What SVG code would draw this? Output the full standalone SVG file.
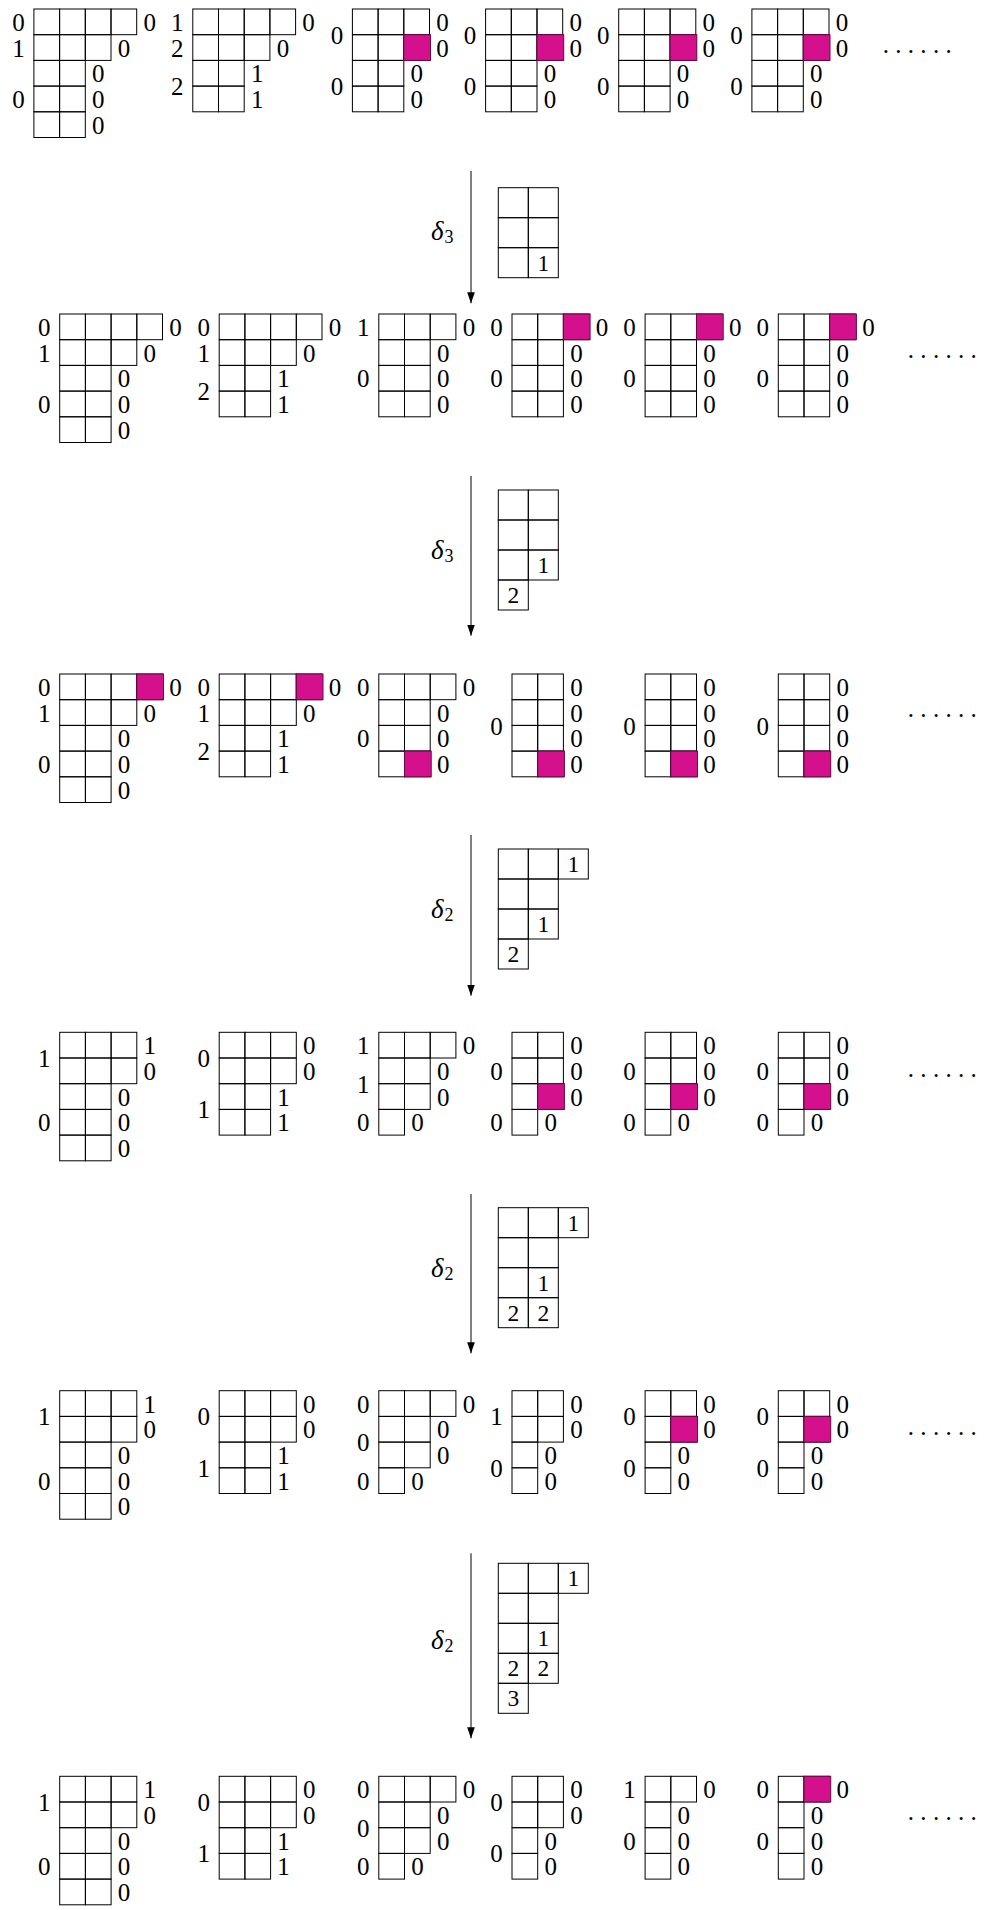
<svg xmlns="http://www.w3.org/2000/svg" xmlns:xlink="http://www.w3.org/1999/xlink" width="985" height="1910" viewBox="0 0 985 1910">
<style>
.bg{fill:#fff}
.c{fill:none;stroke:#000;stroke-width:1}
.p{fill:#d4108c;stroke:#6a0844;stroke-width:1}
text{font-family:"Liberation Serif","Times New Roman","DejaVu Serif",serif;fill:#000}
.n{font-size:25px;text-anchor:middle}
.tn{font-size:23.5px;text-anchor:middle}
.dl{font-size:27px;font-style:italic}
.sub{font-size:18px;font-style:normal}
.dots{font-size:25px;letter-spacing:6.3px}
.ar{stroke:#000;stroke-width:1;fill:none}
</style>
<defs>
<rect id="c" class="c" width="25.7" height="25.7"/>
<rect id="t" class="c" width="30" height="30"/>
<marker id="ah" markerUnits="userSpaceOnUse" markerWidth="11" markerHeight="8" refX="10" refY="3.5" orient="auto" viewBox="0 0 10 7">
<path d="M0,0 L10,3.5 L0,7 Z" fill="#000"/>
</marker>
<g id="sA"><use href="#c" x="0" y="0"/><use href="#c" x="25.7" y="0"/><use href="#c" x="51.4" y="0"/><use href="#c" x="77.1" y="0"/><use href="#c" x="0" y="25.7"/><use href="#c" x="25.7" y="25.7"/><use href="#c" x="51.4" y="25.7"/><use href="#c" x="0" y="51.4"/><use href="#c" x="25.7" y="51.4"/><use href="#c" x="0" y="77.1"/><use href="#c" x="25.7" y="77.1"/><use href="#c" x="0" y="102.8"/><use href="#c" x="25.7" y="102.8"/></g>
<g id="sB"><use href="#c" x="0" y="0"/><use href="#c" x="25.7" y="0"/><use href="#c" x="51.4" y="0"/><use href="#c" x="77.1" y="0"/><use href="#c" x="0" y="25.7"/><use href="#c" x="25.7" y="25.7"/><use href="#c" x="51.4" y="25.7"/><use href="#c" x="0" y="51.4"/><use href="#c" x="25.7" y="51.4"/><use href="#c" x="0" y="77.1"/><use href="#c" x="25.7" y="77.1"/></g>
<g id="sC"><use href="#c" x="0" y="0"/><use href="#c" x="25.7" y="0"/><use href="#c" x="51.4" y="0"/><use href="#c" x="0" y="25.7"/><use href="#c" x="25.7" y="25.7"/><use href="#c" x="51.4" y="25.7"/><use href="#c" x="0" y="51.4"/><use href="#c" x="25.7" y="51.4"/><use href="#c" x="0" y="77.1"/><use href="#c" x="25.7" y="77.1"/></g>
<g id="sD"><use href="#c" x="0" y="0"/><use href="#c" x="25.7" y="0"/><use href="#c" x="51.4" y="0"/><use href="#c" x="0" y="25.7"/><use href="#c" x="25.7" y="25.7"/><use href="#c" x="0" y="51.4"/><use href="#c" x="25.7" y="51.4"/><use href="#c" x="0" y="77.1"/><use href="#c" x="25.7" y="77.1"/></g>
<g id="sE"><use href="#c" x="0" y="0"/><use href="#c" x="25.7" y="0"/><use href="#c" x="0" y="25.7"/><use href="#c" x="25.7" y="25.7"/><use href="#c" x="0" y="51.4"/><use href="#c" x="25.7" y="51.4"/><use href="#c" x="0" y="77.1"/><use href="#c" x="25.7" y="77.1"/></g>
<g id="sF"><use href="#c" x="0" y="0"/><use href="#c" x="25.7" y="0"/><use href="#c" x="51.4" y="0"/><use href="#c" x="0" y="25.7"/><use href="#c" x="25.7" y="25.7"/><use href="#c" x="51.4" y="25.7"/><use href="#c" x="0" y="51.4"/><use href="#c" x="25.7" y="51.4"/><use href="#c" x="0" y="77.1"/><use href="#c" x="25.7" y="77.1"/><use href="#c" x="0" y="102.8"/><use href="#c" x="25.7" y="102.8"/></g>
<g id="sG"><use href="#c" x="0" y="0"/><use href="#c" x="25.7" y="0"/><use href="#c" x="0" y="25.7"/><use href="#c" x="25.7" y="25.7"/><use href="#c" x="0" y="51.4"/><use href="#c" x="25.7" y="51.4"/><use href="#c" x="0" y="77.1"/></g>
<g id="sH"><use href="#c" x="0" y="0"/><use href="#c" x="25.7" y="0"/><use href="#c" x="51.4" y="0"/><use href="#c" x="0" y="25.7"/><use href="#c" x="25.7" y="25.7"/><use href="#c" x="0" y="51.4"/><use href="#c" x="25.7" y="51.4"/><use href="#c" x="0" y="77.1"/></g>
<g id="sI"><use href="#c" x="0" y="0"/><use href="#c" x="25.7" y="0"/><use href="#c" x="0" y="25.7"/><use href="#c" x="25.7" y="25.7"/><use href="#c" x="0" y="51.4"/><use href="#c" x="0" y="77.1"/></g>
<g id="sJ"><use href="#c" x="0" y="0"/><use href="#c" x="25.7" y="0"/><use href="#c" x="0" y="25.7"/><use href="#c" x="0" y="51.4"/><use href="#c" x="0" y="77.1"/></g>
</defs>
<rect class="bg" x="0" y="0" width="985" height="1910"/>

<!-- Row 1 -->
<g id="r1d1" transform="translate(33.9,9)"><use href="#sA"/>
<text class="n" x="-15.5" y="22">0</text><text class="n" x="-15.5" y="47.7">1</text><text class="n" x="-15.5" y="99.1">0</text>
<text class="n" x="115.8" y="22">0</text><text class="n" x="90.1" y="47.7">0</text><text class="n" x="64.4" y="73.4">0</text><text class="n" x="64.4" y="99.1">0</text><text class="n" x="64.4" y="124.8">0</text></g>
<g id="r1d2" transform="translate(192.8,9)"><use href="#sB"/>
<text class="n" x="-15.5" y="22">1</text><text class="n" x="-15.5" y="47.7">2</text><text class="n" x="-15.5" y="86.2">2</text>
<text class="n" x="115.8" y="22">0</text><text class="n" x="90.1" y="47.7">0</text><text class="n" x="64.4" y="73.4">1</text><text class="n" x="64.4" y="99.1">1</text></g>
<g id="r1d3" transform="translate(352.4,9)"><use href="#sC"/><rect class="p" x="51.4" y="25.7" width="26.7" height="25.7"/>
<text class="n" x="-15.5" y="34.8">0</text><text class="n" x="-15.5" y="86.2">0</text>
<text class="n" x="90.1" y="22">0</text><text class="n" x="90.1" y="47.7">0</text><text class="n" x="64.4" y="73.4">0</text><text class="n" x="64.4" y="99.1">0</text></g>
<g id="r1d4" transform="translate(485.6,9)"><use href="#sC"/><rect class="p" x="51.4" y="25.7" width="26.7" height="25.7"/>
<text class="n" x="-15.5" y="34.8">0</text><text class="n" x="-15.5" y="86.2">0</text>
<text class="n" x="90.1" y="22">0</text><text class="n" x="90.1" y="47.7">0</text><text class="n" x="64.4" y="73.4">0</text><text class="n" x="64.4" y="99.1">0</text></g>
<g id="r1d5" transform="translate(618.7,9)"><use href="#sC"/><rect class="p" x="51.4" y="25.7" width="26.7" height="25.7"/>
<text class="n" x="-15.5" y="34.8">0</text><text class="n" x="-15.5" y="86.2">0</text>
<text class="n" x="90.1" y="22">0</text><text class="n" x="90.1" y="47.7">0</text><text class="n" x="64.4" y="73.4">0</text><text class="n" x="64.4" y="99.1">0</text></g>
<g id="r1d6" transform="translate(751.9,9)"><use href="#sC"/><rect class="p" x="51.4" y="25.7" width="26.7" height="25.7"/>
<text class="n" x="-15.5" y="34.8">0</text><text class="n" x="-15.5" y="86.2">0</text>
<text class="n" x="90.1" y="22">0</text><text class="n" x="90.1" y="47.7">0</text><text class="n" x="64.4" y="73.4">0</text><text class="n" x="64.4" y="99.1">0</text></g>
<text class="dots" x="882.7" y="52.5">......</text>

<!-- Row 2 -->
<g id="r2d1" transform="translate(59.7,314)"><use href="#sA"/>
<text class="n" x="-15.5" y="22">0</text><text class="n" x="-15.5" y="47.7">1</text><text class="n" x="-15.5" y="99.1">0</text>
<text class="n" x="115.8" y="22">0</text><text class="n" x="90.1" y="47.7">0</text><text class="n" x="64.4" y="73.4">0</text><text class="n" x="64.4" y="99.1">0</text><text class="n" x="64.4" y="124.8">0</text></g>
<g id="r2d2" transform="translate(219.2,314)"><use href="#sB"/>
<text class="n" x="-15.5" y="22">0</text><text class="n" x="-15.5" y="47.7">1</text><text class="n" x="-15.5" y="86.2">2</text>
<text class="n" x="115.8" y="22">0</text><text class="n" x="90.1" y="47.7">0</text><text class="n" x="64.4" y="73.4">1</text><text class="n" x="64.4" y="99.1">1</text></g>
<g id="r2d3" transform="translate(378.8,314)"><use href="#sD"/>
<text class="n" x="-15.5" y="22">1</text><text class="n" x="-15.5" y="73.4">0</text>
<text class="n" x="90.1" y="22">0</text><text class="n" x="64.4" y="47.7">0</text><text class="n" x="64.4" y="73.4">0</text><text class="n" x="64.4" y="99.1">0</text></g>
<g id="r2d4" transform="translate(512,314)"><use href="#sD"/><rect class="p" x="51.4" y="0" width="26.7" height="25.7"/>
<text class="n" x="-15.5" y="22">0</text><text class="n" x="-15.5" y="73.4">0</text>
<text class="n" x="90.1" y="22">0</text><text class="n" x="64.4" y="47.7">0</text><text class="n" x="64.4" y="73.4">0</text><text class="n" x="64.4" y="99.1">0</text></g>
<g id="r2d5" transform="translate(645.1,314)"><use href="#sD"/><rect class="p" x="51.4" y="0" width="26.7" height="25.7"/>
<text class="n" x="-15.5" y="22">0</text><text class="n" x="-15.5" y="73.4">0</text>
<text class="n" x="90.1" y="22">0</text><text class="n" x="64.4" y="47.7">0</text><text class="n" x="64.4" y="73.4">0</text><text class="n" x="64.4" y="99.1">0</text></g>
<g id="r2d6" transform="translate(778.3,314)"><use href="#sD"/><rect class="p" x="51.4" y="0" width="26.7" height="25.7"/>
<text class="n" x="-15.5" y="22">0</text><text class="n" x="-15.5" y="73.4">0</text>
<text class="n" x="90.1" y="22">0</text><text class="n" x="64.4" y="47.7">0</text><text class="n" x="64.4" y="73.4">0</text><text class="n" x="64.4" y="99.1">0</text></g>
<text class="dots" x="907.8" y="358.2">......</text>

<!-- Row 3 -->
<g id="r3d1" transform="translate(59.7,674)"><use href="#sA"/><rect class="p" x="77.1" y="0" width="26.7" height="25.7"/>
<text class="n" x="-15.5" y="22">0</text><text class="n" x="-15.5" y="47.7">1</text><text class="n" x="-15.5" y="99.1">0</text>
<text class="n" x="115.8" y="22">0</text><text class="n" x="90.1" y="47.7">0</text><text class="n" x="64.4" y="73.4">0</text><text class="n" x="64.4" y="99.1">0</text><text class="n" x="64.4" y="124.8">0</text></g>
<g id="r3d2" transform="translate(219.2,674)"><use href="#sB"/><rect class="p" x="77.1" y="0" width="26.7" height="25.7"/>
<text class="n" x="-15.5" y="22">0</text><text class="n" x="-15.5" y="47.7">1</text><text class="n" x="-15.5" y="86.2">2</text>
<text class="n" x="115.8" y="22">0</text><text class="n" x="90.1" y="47.7">0</text><text class="n" x="64.4" y="73.4">1</text><text class="n" x="64.4" y="99.1">1</text></g>
<g id="r3d3" transform="translate(378.8,674)"><use href="#sD"/><rect class="p" x="25.7" y="77.1" width="26.7" height="25.7"/>
<text class="n" x="-15.5" y="22">0</text><text class="n" x="-15.5" y="73.4">0</text>
<text class="n" x="90.1" y="22">0</text><text class="n" x="64.4" y="47.7">0</text><text class="n" x="64.4" y="73.4">0</text><text class="n" x="64.4" y="99.1">0</text></g>
<g id="r3d4" transform="translate(512,674)"><use href="#sE"/><rect class="p" x="25.7" y="77.1" width="26.7" height="25.7"/>
<text class="n" x="-15.5" y="60.5">0</text>
<text class="n" x="64.4" y="22">0</text><text class="n" x="64.4" y="47.7">0</text><text class="n" x="64.4" y="73.4">0</text><text class="n" x="64.4" y="99.1">0</text></g>
<g id="r3d5" transform="translate(645.1,674)"><use href="#sE"/><rect class="p" x="25.7" y="77.1" width="26.7" height="25.7"/>
<text class="n" x="-15.5" y="60.5">0</text>
<text class="n" x="64.4" y="22">0</text><text class="n" x="64.4" y="47.7">0</text><text class="n" x="64.4" y="73.4">0</text><text class="n" x="64.4" y="99.1">0</text></g>
<g id="r3d6" transform="translate(778.3,674)"><use href="#sE"/><rect class="p" x="25.7" y="77.1" width="26.7" height="25.7"/>
<text class="n" x="-15.5" y="60.5">0</text>
<text class="n" x="64.4" y="22">0</text><text class="n" x="64.4" y="47.7">0</text><text class="n" x="64.4" y="73.4">0</text><text class="n" x="64.4" y="99.1">0</text></g>
<text class="dots" x="907.8" y="716.5">......</text>

<!-- Row 4 -->
<g id="r4d1" transform="translate(59.7,1032.3)"><use href="#sF"/>
<text class="n" x="-15.5" y="34.8">1</text><text class="n" x="-15.5" y="99.1">0</text>
<text class="n" x="90.1" y="22">1</text><text class="n" x="90.1" y="47.7">0</text><text class="n" x="64.4" y="73.4">0</text><text class="n" x="64.4" y="99.1">0</text><text class="n" x="64.4" y="124.8">0</text></g>
<g id="r4d2" transform="translate(219.2,1032.3)"><use href="#sC"/>
<text class="n" x="-15.5" y="34.8">0</text><text class="n" x="-15.5" y="86.2">1</text>
<text class="n" x="90.1" y="22">0</text><text class="n" x="90.1" y="47.7">0</text><text class="n" x="64.4" y="73.4">1</text><text class="n" x="64.4" y="99.1">1</text></g>
<g id="r4d3" transform="translate(378.8,1032.3)"><use href="#sH"/>
<text class="n" x="-15.5" y="22">1</text><text class="n" x="-15.5" y="60.5">1</text><text class="n" x="-15.5" y="99.1">0</text>
<text class="n" x="90.1" y="22">0</text><text class="n" x="64.4" y="47.7">0</text><text class="n" x="64.4" y="73.4">0</text><text class="n" x="38.7" y="99.1">0</text></g>
<g id="r4d4" transform="translate(512,1032.3)"><use href="#sG"/><rect class="p" x="25.7" y="51.4" width="26.7" height="25.7"/>
<text class="n" x="-15.5" y="47.7">0</text><text class="n" x="-15.5" y="99.1">0</text>
<text class="n" x="64.4" y="22">0</text><text class="n" x="64.4" y="47.7">0</text><text class="n" x="64.4" y="73.4">0</text><text class="n" x="38.7" y="99.1">0</text></g>
<g id="r4d5" transform="translate(645.1,1032.3)"><use href="#sG"/><rect class="p" x="25.7" y="51.4" width="26.7" height="25.7"/>
<text class="n" x="-15.5" y="47.7">0</text><text class="n" x="-15.5" y="99.1">0</text>
<text class="n" x="64.4" y="22">0</text><text class="n" x="64.4" y="47.7">0</text><text class="n" x="64.4" y="73.4">0</text><text class="n" x="38.7" y="99.1">0</text></g>
<g id="r4d6" transform="translate(778.3,1032.3)"><use href="#sG"/><rect class="p" x="25.7" y="51.4" width="26.7" height="25.7"/>
<text class="n" x="-15.5" y="47.7">0</text><text class="n" x="-15.5" y="99.1">0</text>
<text class="n" x="64.4" y="22">0</text><text class="n" x="64.4" y="47.7">0</text><text class="n" x="64.4" y="73.4">0</text><text class="n" x="38.7" y="99.1">0</text></g>
<text class="dots" x="907.8" y="1076.5">......</text>

<!-- Row 5 -->
<g id="r5d1" transform="translate(59.7,1390.7)"><use href="#sF"/>
<text class="n" x="-15.5" y="34.8">1</text><text class="n" x="-15.5" y="99.1">0</text>
<text class="n" x="90.1" y="22">1</text><text class="n" x="90.1" y="47.7">0</text><text class="n" x="64.4" y="73.4">0</text><text class="n" x="64.4" y="99.1">0</text><text class="n" x="64.4" y="124.8">0</text></g>
<g id="r5d2" transform="translate(219.2,1390.7)"><use href="#sC"/>
<text class="n" x="-15.5" y="34.8">0</text><text class="n" x="-15.5" y="86.2">1</text>
<text class="n" x="90.1" y="22">0</text><text class="n" x="90.1" y="47.7">0</text><text class="n" x="64.4" y="73.4">1</text><text class="n" x="64.4" y="99.1">1</text></g>
<g id="r5d3" transform="translate(378.8,1390.7)"><use href="#sH"/>
<text class="n" x="-15.5" y="22">0</text><text class="n" x="-15.5" y="60.5">0</text><text class="n" x="-15.5" y="99.1">0</text>
<text class="n" x="90.1" y="22">0</text><text class="n" x="64.4" y="47.7">0</text><text class="n" x="64.4" y="73.4">0</text><text class="n" x="38.7" y="99.1">0</text></g>
<g id="r5d4" transform="translate(512,1390.7)"><use href="#sI"/>
<text class="n" x="-15.5" y="34.8">1</text><text class="n" x="-15.5" y="86.2">0</text>
<text class="n" x="64.4" y="22">0</text><text class="n" x="64.4" y="47.7">0</text><text class="n" x="38.7" y="73.4">0</text><text class="n" x="38.7" y="99.1">0</text></g>
<g id="r5d5" transform="translate(645.1,1390.7)"><use href="#sI"/><rect class="p" x="25.7" y="25.7" width="26.7" height="25.7"/>
<text class="n" x="-15.5" y="34.8">0</text><text class="n" x="-15.5" y="86.2">0</text>
<text class="n" x="64.4" y="22">0</text><text class="n" x="64.4" y="47.7">0</text><text class="n" x="38.7" y="73.4">0</text><text class="n" x="38.7" y="99.1">0</text></g>
<g id="r5d6" transform="translate(778.3,1390.7)"><use href="#sI"/><rect class="p" x="25.7" y="25.7" width="26.7" height="25.7"/>
<text class="n" x="-15.5" y="34.8">0</text><text class="n" x="-15.5" y="86.2">0</text>
<text class="n" x="64.4" y="22">0</text><text class="n" x="64.4" y="47.7">0</text><text class="n" x="38.7" y="73.4">0</text><text class="n" x="38.7" y="99.1">0</text></g>
<text class="dots" x="907.8" y="1434.5">......</text>

<!-- Row 6 -->
<g id="r6d1" transform="translate(59.7,1776.3)"><use href="#sF"/>
<text class="n" x="-15.5" y="34.8">1</text><text class="n" x="-15.5" y="99.1">0</text>
<text class="n" x="90.1" y="22">1</text><text class="n" x="90.1" y="47.7">0</text><text class="n" x="64.4" y="73.4">0</text><text class="n" x="64.4" y="99.1">0</text><text class="n" x="64.4" y="124.8">0</text></g>
<g id="r6d2" transform="translate(219.2,1776.3)"><use href="#sC"/>
<text class="n" x="-15.5" y="34.8">0</text><text class="n" x="-15.5" y="86.2">1</text>
<text class="n" x="90.1" y="22">0</text><text class="n" x="90.1" y="47.7">0</text><text class="n" x="64.4" y="73.4">1</text><text class="n" x="64.4" y="99.1">1</text></g>
<g id="r6d3" transform="translate(378.8,1776.3)"><use href="#sH"/>
<text class="n" x="-15.5" y="22">0</text><text class="n" x="-15.5" y="60.5">0</text><text class="n" x="-15.5" y="99.1">0</text>
<text class="n" x="90.1" y="22">0</text><text class="n" x="64.4" y="47.7">0</text><text class="n" x="64.4" y="73.4">0</text><text class="n" x="38.7" y="99.1">0</text></g>
<g id="r6d4" transform="translate(512,1776.3)"><use href="#sI"/>
<text class="n" x="-15.5" y="34.8">0</text><text class="n" x="-15.5" y="86.2">0</text>
<text class="n" x="64.4" y="22">0</text><text class="n" x="64.4" y="47.7">0</text><text class="n" x="38.7" y="73.4">0</text><text class="n" x="38.7" y="99.1">0</text></g>
<g id="r6d5" transform="translate(645.1,1776.3)"><use href="#sJ"/>
<text class="n" x="-15.5" y="22">1</text><text class="n" x="-15.5" y="73.4">0</text>
<text class="n" x="64.4" y="22">0</text><text class="n" x="38.7" y="47.7">0</text><text class="n" x="38.7" y="73.4">0</text><text class="n" x="38.7" y="99.1">0</text></g>
<g id="r6d6" transform="translate(778.3,1776.3)"><use href="#sJ"/><rect class="p" x="25.7" y="0" width="26.7" height="25.7"/>
<text class="n" x="-15.5" y="22">0</text><text class="n" x="-15.5" y="73.4">0</text>
<text class="n" x="64.4" y="22">0</text><text class="n" x="38.7" y="47.7">0</text><text class="n" x="38.7" y="73.4">0</text><text class="n" x="38.7" y="99.1">0</text></g>
<text class="dots" x="907.8" y="1819.5">......</text>

<!-- Tableaux -->
<g id="tab1" transform="translate(498.3,187.7)">
<use href="#t" x="0" y="0"/><use href="#t" x="30" y="0"/><use href="#t" x="0" y="30"/><use href="#t" x="30" y="30"/><use href="#t" x="0" y="60"/><use href="#t" x="30" y="60"/>
<text class="tn" x="45" y="82.9">1</text></g>
<g id="tab2" transform="translate(498.3,490)">
<use href="#t" x="0" y="0"/><use href="#t" x="30" y="0"/><use href="#t" x="0" y="30"/><use href="#t" x="30" y="30"/><use href="#t" x="0" y="60"/><use href="#t" x="30" y="60"/><use href="#t" x="0" y="90"/>
<text class="tn" x="45" y="82.9">1</text><text class="tn" x="15" y="112.9">2</text></g>
<g id="tab3" transform="translate(498.3,849)">
<use href="#t" x="0" y="0"/><use href="#t" x="30" y="0"/><use href="#t" x="60" y="0"/><use href="#t" x="0" y="30"/><use href="#t" x="30" y="30"/><use href="#t" x="0" y="60"/><use href="#t" x="30" y="60"/><use href="#t" x="0" y="90"/>
<text class="tn" x="75" y="22.9">1</text><text class="tn" x="45" y="82.9">1</text><text class="tn" x="15" y="112.9">2</text></g>
<g id="tab4" transform="translate(498.3,1207.7)">
<use href="#t" x="0" y="0"/><use href="#t" x="30" y="0"/><use href="#t" x="60" y="0"/><use href="#t" x="0" y="30"/><use href="#t" x="30" y="30"/><use href="#t" x="0" y="60"/><use href="#t" x="30" y="60"/><use href="#t" x="0" y="90"/><use href="#t" x="30" y="90"/>
<text class="tn" x="75" y="22.9">1</text><text class="tn" x="45" y="82.9">1</text><text class="tn" x="15" y="112.9">2</text><text class="tn" x="45" y="112.9">2</text></g>
<g id="tab5" transform="translate(498.3,1563.3)">
<use href="#t" x="0" y="0"/><use href="#t" x="30" y="0"/><use href="#t" x="60" y="0"/><use href="#t" x="0" y="30"/><use href="#t" x="30" y="30"/><use href="#t" x="0" y="60"/><use href="#t" x="30" y="60"/><use href="#t" x="0" y="90"/><use href="#t" x="30" y="90"/><use href="#t" x="0" y="120"/>
<text class="tn" x="75" y="22.9">1</text><text class="tn" x="45" y="82.9">1</text><text class="tn" x="15" y="112.9">2</text><text class="tn" x="45" y="112.9">2</text><text class="tn" x="15" y="142.9">3</text></g>

<!-- Connectors -->
<g id="connectors">
<line class="ar" x1="471" y1="171" x2="471" y2="303.3" marker-end="url(#ah)"/>
<line class="ar" x1="471" y1="476" x2="471" y2="635.7" marker-end="url(#ah)"/>
<line class="ar" x1="471" y1="835" x2="471" y2="995.7" marker-end="url(#ah)"/>
<line class="ar" x1="471" y1="1194" x2="471" y2="1353.3" marker-end="url(#ah)"/>
<line class="ar" x1="471" y1="1553.3" x2="471" y2="1738.3" marker-end="url(#ah)"/>
<text class="dl" x="431" y="240.2">δ<tspan class="sub" x="444.5" y="243.2">3</tspan></text>
<text class="dl" x="431" y="558.9">δ<tspan class="sub" x="444.5" y="561.9">3</tspan></text>
<text class="dl" x="431" y="918.4">δ<tspan class="sub" x="444.5" y="921.4">2</tspan></text>
<text class="dl" x="431" y="1276.7">δ<tspan class="sub" x="444.5" y="1279.7">2</tspan></text>
<text class="dl" x="431" y="1648.8">δ<tspan class="sub" x="444.5" y="1651.8">2</tspan></text>
</g>
</svg>
